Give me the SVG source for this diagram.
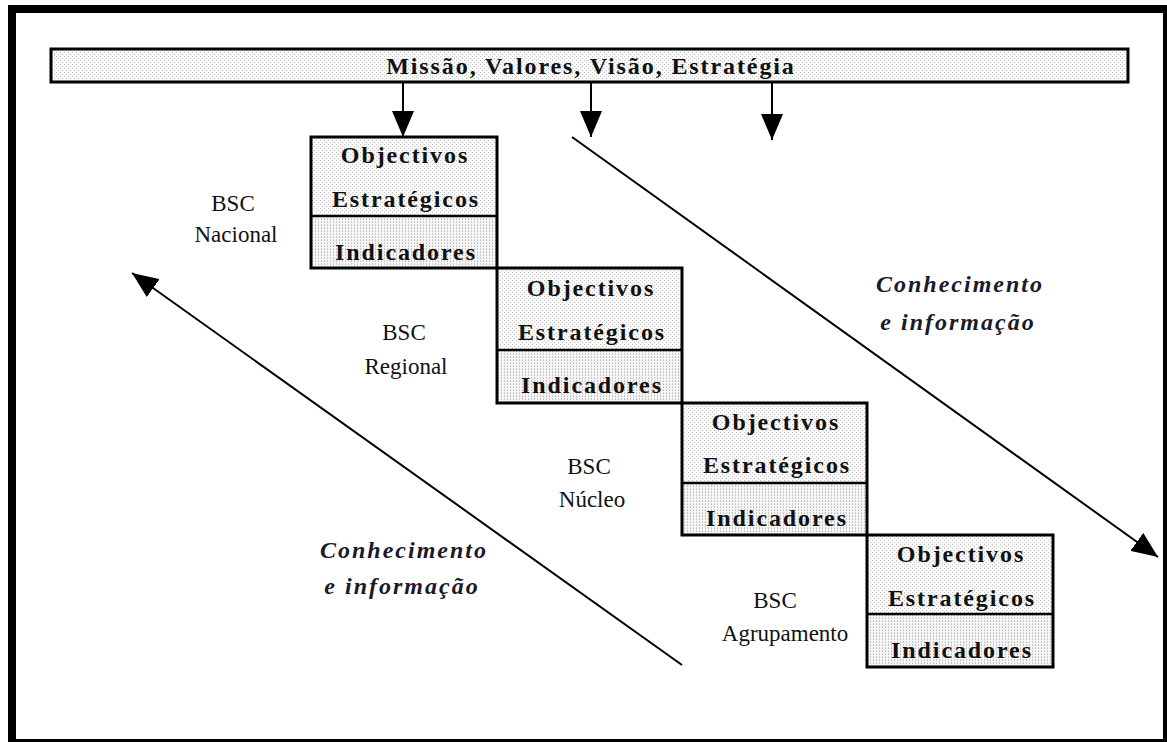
<svg xmlns="http://www.w3.org/2000/svg" width="1167" height="742" viewBox="0 0 1167 742">
  <defs>
    <!-- light dotted screen used for the banner and the objective cells -->
    <pattern id="dots" width="4" height="4" patternUnits="userSpaceOnUse">
      <rect width="4" height="4" fill="#fafafa"/>
      <rect x="0" y="0" width="1" height="1" fill="#c4c4c4"/>
      <rect x="2" y="2" width="1" height="1" fill="#c4c4c4"/>
    </pattern>
    <!-- denser column screen for the indicator cells -->
    <pattern id="cols" width="3" height="3" patternUnits="userSpaceOnUse">
      <rect width="3" height="3" fill="#f6f6f6"/>
      <rect x="0" y="0" width="1" height="1" fill="#bdbdbd"/>
      <rect x="0" y="2" width="1" height="1" fill="#d0d0d0"/>
    </pattern>
    <marker id="head" viewBox="0 0 26 22" refX="26" refY="11" markerWidth="26" markerHeight="22" markerUnits="userSpaceOnUse" orient="auto">
      <path d="M0,0 L26,11 L0,22 Z" fill="#000"/>
    </marker>
    <style>
      .frame { fill: none; stroke: #000; stroke-width: 8; }
      .banner { fill: url(#dots); stroke: #000; stroke-width: 3; }
      .cell-top { fill: url(#dots); }
      .cell-bot { fill: url(#cols); }
      .cell-line { fill: none; stroke: #000; stroke-width: 3; }
      .div { stroke: #000; stroke-width: 2.5; }
      .bold { font-family: "Liberation Serif", "Times New Roman", serif; font-weight: bold; font-size: 24px; letter-spacing: 1.9px; fill: #111; text-anchor: middle; }
      .lab { font-family: "Liberation Serif", "Times New Roman", serif; font-size: 23px; fill: #111; text-anchor: middle; }
      .ital { font-family: "Liberation Serif", "Times New Roman", serif; font-weight: bold; font-style: italic; font-size: 24px; letter-spacing: 2px; fill: #1a1a2a; text-anchor: middle; }
      .conn { stroke: #000; stroke-width: 2; fill: none; marker-end: url(#head); }
    </style>
  </defs>

  <rect width="1167" height="742" fill="#fff"/>
  <rect class="frame" x="12" y="9" width="1155" height="734"/>

  <!-- top banner -->
  <g id="banner">
    <rect class="banner" x="51" y="49" width="1077" height="33"/>
    <text class="bold" x="591" y="74">Missão, Valores, Visão, Estratégia</text>
  </g>

  <!-- BSC levels -->
  <g id="bsc-nacional">
    <rect class="cell-top" x="311" y="137" width="186" height="79"/>
    <rect class="cell-bot" x="311" y="216" width="186" height="52"/>
    <rect class="cell-line" x="311" y="137" width="186" height="131"/>
    <line class="div" x1="311" y1="216" x2="497" y2="216"/>
    <text class="bold" x="405" y="163">Objectivos</text>
    <text class="bold" x="406" y="207">Estratégicos</text>
    <text class="bold" x="406" y="260">Indicadores</text>
    <text class="lab" x="233" y="211">BSC</text>
    <text class="lab" x="236" y="242">Nacional</text>
  </g>

  <g id="bsc-regional">
    <rect class="cell-top" x="497" y="269" width="185" height="81"/>
    <rect class="cell-bot" x="497" y="350" width="185" height="53"/>
    <rect class="cell-line" x="497" y="268" width="185" height="135"/>
    <line class="div" x1="497" y1="350" x2="682" y2="350"/>
    <text class="bold" x="591" y="296">Objectivos</text>
    <text class="bold" x="592" y="340">Estratégicos</text>
    <text class="bold" x="592" y="393">Indicadores</text>
    <text class="lab" x="404" y="340">BSC</text>
    <text class="lab" x="406" y="374">Regional</text>
  </g>

  <g id="bsc-nucleo">
    <rect class="cell-top" x="682" y="403" width="185" height="80"/>
    <rect class="cell-bot" x="682" y="483" width="185" height="52"/>
    <rect class="cell-line" x="682" y="403" width="185" height="132"/>
    <line class="div" x1="682" y1="483" x2="867" y2="483"/>
    <text class="bold" x="776" y="430">Objectivos</text>
    <text class="bold" x="777" y="473">Estratégicos</text>
    <text class="bold" x="777" y="526">Indicadores</text>
    <text class="lab" x="589" y="474">BSC</text>
    <text class="lab" x="592" y="507">Núcleo</text>
  </g>

  <g id="bsc-agrupamento">
    <rect class="cell-top" x="867" y="535" width="186" height="79"/>
    <rect class="cell-bot" x="867" y="614" width="186" height="53"/>
    <rect class="cell-line" x="867" y="535" width="186" height="132"/>
    <line class="div" x1="867" y1="614" x2="1053" y2="614"/>
    <text class="bold" x="961" y="562">Objectivos</text>
    <text class="bold" x="962" y="606">Estratégicos</text>
    <text class="bold" x="962" y="658">Indicadores</text>
    <text class="lab" x="775" y="608">BSC</text>
    <text class="lab" x="785" y="641">Agrupamento</text>
  </g>

  <!-- flow labels -->
  <g id="label-down">
    <text class="ital" x="960" y="292">Conhecimento</text>
    <text class="ital" x="958" y="330">e informação</text>
  </g>
  <g id="label-up">
    <text class="ital" x="404" y="558">Conhecimento</text>
    <text class="ital" x="402" y="594">e informação</text>
  </g>

  <!-- connectors -->
  <g id="connectors">
    <line class="conn" x1="403" y1="83" x2="403" y2="137"/>
    <line class="conn" x1="591" y1="83" x2="591" y2="137"/>
    <line class="conn" x1="772" y1="83" x2="772" y2="140"/>
    <line class="conn" x1="572" y1="137" x2="1158" y2="557"/>
    <line class="conn" x1="682" y1="665" x2="132" y2="273"/>
  </g>
</svg>
